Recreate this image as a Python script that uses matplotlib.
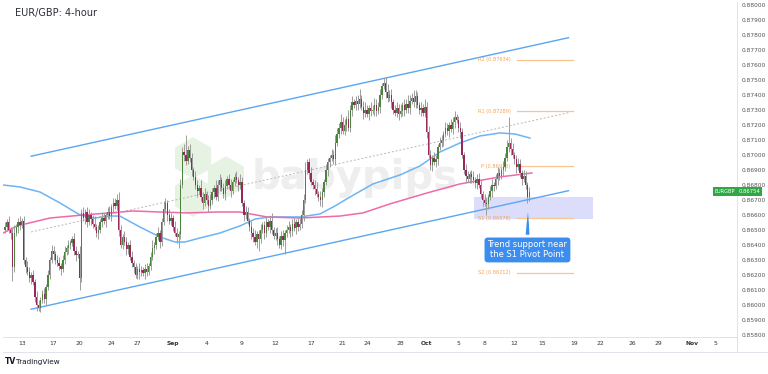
import numpy as np
import matplotlib.pyplot as plt
from matplotlib.patches import Rectangle
from matplotlib.lines import Line2D

plt.rcParams['font.family'] = ['DejaVu Sans']

title = "EUR/GBP: 4-hour"

# 4-hour closes in pips (price * 1e4), open = previous close
first_open = 8650
closes = [
    8652, 8655, 8650, 8648, 8625, 8648, 8652, 8655, 8653, 8656,
    8630, 8625, 8622, 8618, 8620, 8615, 8605, 8600, 8598, 8603,
    8607, 8604, 8612, 8620, 8630, 8636, 8634, 8630, 8628, 8626,
    8624, 8630, 8635, 8638, 8640, 8641, 8644, 8636, 8633, 8634,
    8618, 8661, 8658, 8662, 8655, 8660, 8657, 8654, 8652, 8648,
    8650, 8655, 8658, 8656, 8660, 8662, 8659, 8665, 8668, 8666,
    8670, 8650, 8640, 8645, 8642, 8637, 8640, 8632, 8628, 8625,
    8620, 8624, 8622, 8623, 8621, 8624, 8622, 8626, 8632, 8638,
    8640, 8645, 8648, 8642, 8655, 8664, 8668, 8660, 8656, 8658,
    8652, 8648, 8645, 8647, 8680, 8702, 8700, 8696, 8703, 8698,
    8690, 8685, 8680, 8676, 8678, 8672, 8668, 8674, 8670, 8666,
    8670, 8675, 8678, 8672, 8680, 8683, 8678, 8674, 8679, 8684,
    8680, 8676, 8682, 8685, 8683, 8680, 8682, 8668, 8660, 8662,
    8656, 8652, 8648, 8645, 8642, 8647, 8644, 8650, 8653, 8648,
    8655, 8652, 8656, 8650, 8646, 8648, 8644, 8640, 8646, 8643,
    8648, 8650, 8652, 8649, 8654, 8651, 8655, 8652, 8654, 8660,
    8670, 8690, 8695, 8688, 8682, 8680, 8677, 8674, 8672, 8670,
    8675, 8682, 8690, 8695, 8698, 8700, 8697, 8708, 8714, 8718,
    8722, 8716, 8720, 8724, 8718, 8730, 8735, 8733, 8736, 8734,
    8737, 8732, 8728, 8730, 8727, 8731, 8729, 8730, 8733, 8729,
    8732, 8740, 8746, 8748, 8742, 8738, 8740, 8735, 8730, 8728,
    8731, 8727, 8729, 8733, 8730, 8734, 8731, 8736, 8738, 8735,
    8739, 8733, 8730, 8731, 8728, 8732, 8715, 8700, 8693, 8698,
    8695, 8697, 8705, 8708, 8710, 8714, 8718, 8716, 8720, 8717,
    8722, 8725, 8723, 8718, 8715, 8700, 8690, 8686, 8684, 8687,
    8685, 8683, 8681, 8684, 8680, 8674, 8670, 8668, 8667, 8672,
    8676, 8680, 8679, 8684, 8688, 8686, 8690, 8692, 8698, 8705,
    8708, 8704, 8700, 8697, 8692, 8694, 8688, 8684, 8686, 8680,
    8672, 8675.4,
]
# wick length above / below the body, pips
up_wick = [
    3, 2, 4, 2, 3, 5, 2, 3, 4, 2,
    3, 2, 4, 3, 2, 3, 2, 4, 3, 2,
    3, 4, 2, 3, 2, 4, 3, 2, 3, 4,
    2, 3, 4, 2, 3, 2, 2, 4, 3, 2,
    5, 3, 4, 2, 3, 4, 2, 3, 5, 2,
    3, 2, 4, 3, 2, 3, 4, 2, 3, 3,
    4, 5, 3, 2, 4, 3, 2, 3, 4, 2,
    3, 2, 4, 3, 2, 3, 4, 2, 3, 5,
    2, 3, 4, 2, 3, 5, 3, 2, 4, 3,
    2, 4, 3, 2, 4, 3, 5, 13, 3, 4,
    3, 2, 4, 3, 2, 5, 3, 4, 2, 3,
    4, 3, 2, 5, 3, 4, 2, 3, 4, 2,
    3, 4, 2, 3, 4, 2, 5, 3, 2, 4,
    3, 2, 4, 3, 5, 2, 3, 4, 2, 3,
    4, 2, 3, 5, 2, 3, 4, 2, 3, 4,
    2, 3, 4, 2, 3, 4, 2, 3, 4, 3,
    4, 5, 2, 3, 4, 2, 3, 5, 2, 4,
    3, 2, 4, 3, 2, 4, 3, 5, 4, 3,
    5, 3, 4, 2, 6, 3, 4, 2, 3, 4,
    7, 3, 4, 5, 3, 2, 4, 3, 5, 4,
    3, 4, 2, 3, 4, 5, 3, 4, 2, 3,
    4, 3, 5, 2, 4, 3, 6, 4, 3, 5,
    4, 3, 2, 4, 3, 5, 3, 4, 3, 2,
    4, 3, 2, 4, 3, 2, 4, 3, 2, 4,
    3, 4, 2, 3, 4, 3, 2, 4, 3, 2,
    3, 4, 2, 3, 4, 3, 2, 4, 3, 2,
    3, 4, 2, 3, 4, 3, 2, 4, 3, 5,
    17, 3, 4, 2, 3, 4, 3, 2, 4, 3,
    2, 3,
]
dn_wick = [
    2, 3, 2, 4, 9, 3, 2, 4, 3, 2,
    3, 4, 2, 3, 4, 2, 3, 4, 2, 3,
    2, 3, 4, 2, 3, 2, 4, 3, 2, 3,
    4, 2, 3, 2, 4, 3, 2, 3, 4, 2,
    8, 3, 2, 4, 3, 2, 4, 3, 2, 3,
    4, 2, 3, 2, 4, 3, 2, 3, 4, 2,
    3, 4, 2, 3, 2, 4, 3, 2, 3, 4,
    2, 3, 5, 3, 2, 4, 3, 2, 3, 2,
    4, 3, 2, 4, 3, 2, 3, 4, 2, 3,
    3, 2, 4, 7, 3, 2, 4, 3, 2, 3,
    4, 2, 3, 4, 2, 3, 4, 2, 3, 4,
    2, 3, 4, 2, 3, 4, 2, 3, 4, 2,
    3, 4, 2, 3, 2, 4, 3, 2, 4, 3,
    2, 3, 4, 3, 2, 4, 8, 3, 2, 4,
    3, 2, 4, 3, 2, 3, 4, 2, 3, 4,
    9, 3, 2, 4, 3, 2, 4, 3, 2, 3,
    4, 2, 3, 4, 2, 3, 4, 2, 3, 4,
    5, 3, 2, 4, 3, 2, 3, 4, 2, 3,
    4, 2, 3, 4, 2, 3, 4, 2, 3, 4,
    3, 2, 4, 3, 2, 4, 3, 2, 4, 3,
    2, 4, 3, 2, 4, 3, 2, 4, 3, 2,
    3, 4, 2, 3, 4, 2, 3, 4, 2, 3,
    4, 2, 3, 4, 2, 3, 4, 2, 3, 4,
    2, 3, 4, 2, 3, 4, 2, 3, 4, 2,
    3, 4, 2, 3, 4, 2, 3, 4, 2, 3,
    4, 2, 3, 4, 2, 3, 4, 2, 7, 3,
    2, 4, 3, 2, 4, 3, 2, 4, 3, 2,
    3, 4, 2, 3, 4, 2, 3, 4, 2, 3,
    4, 3,
]

# moving averages (bar index, price in pips)
blue_ma_x = [-1, 8, 18.8, 29.5, 40.2, 48.2, 56.3, 61.6, 72.3, 83.1, 91.1, 96.5,
             104.5, 115.2, 125.9, 134, 142, 158.1, 168.8, 176.8, 184.9, 197.2,
             211.7, 222.4, 233.1, 243.8, 254.6, 265.3, 273.3, 281.3]
blue_ma_y = [8679.8, 8678.5, 8675.1, 8667.8, 8659.8, 8657.8, 8659.1, 8659.1, 8651.8,
             8645.1, 8641.8, 8641.8, 8644.5, 8647.8, 8652.5, 8657.1, 8658.5, 8658.5,
             8660.5, 8665.8, 8671.8, 8680.5, 8686.5, 8692.5, 8701.8, 8707.8, 8712.5,
             8714.5, 8713.8, 8711.1]
pink_ma_x = [-1, 6.4, 24.1, 41.8, 56.3, 68.6, 83.1, 97.5, 113.6, 125.9, 140.4,
             158.1, 179.5, 191.9, 206.3, 226.2, 243.8, 265.3, 282.4]
pink_ma_y = [8647.8, 8652.5, 8657.8, 8659.8, 8661.2, 8662.5, 8661.8, 8661.2, 8661.8,
             8661.8, 8658.5, 8657.8, 8659.1, 8661.2, 8667.2, 8674.5, 8680.5, 8685.2,
             8687.8]

# ascending channel + midline (bar index, pips)
channel_x = [14, 302]
upper_y = [8699, 8778]
lower_y = [8597, 8676]
mid_y = [8648.5, 8728]

pivot_names = ["R2", "R1", "P", "S1", "S2"]
pivot_values = [0.87634, 0.87289, 0.86923, 0.86578, 0.86212]
pivot_x = [274.5, 304.5]

zone_x = [251.3, 315.1]
zone_y = [0.86571, 0.86718]

last_price = 0.86754
note = "Trend support near\nthe S1 Pivot Point"

date_labels = ["13", "17", "20", "24", "27", "Sep", "4", "9", "12", "17", "21", "24",
               "28", "Oct", "5", "8", "12", "15", "19", "22", "26", "29", "Nov", "5"]
date_bars = [9, 26, 40, 57, 71, 90, 108, 127, 145, 164, 181, 194,
             212, 226, 243, 257, 273, 288, 305, 319, 336, 350, 368, 381]

price_ticks = np.arange(0.858, 0.8801, 0.001)

# ---------------------------------------------------------------
c = np.array(closes) / 1e4
o = np.r_[first_open / 1e4, c[:-1]]
hi = np.maximum(o, c) + np.array(up_wick) / 1e4
lo = np.minimum(o, c) - np.array(dn_wick) / 1e4
x = np.arange(len(c))
rising = c >= o

W, H = 768, 374
fig = plt.figure(figsize=(W / 100, H / 100), dpi=100)
ax = fig.add_axes([3 / W, 1 - 337 / H, 734 / W, 335 / H])
ax.set_xlim(-1.07, 392.3)
ax.set_ylim(0.857847, 0.880180)

# watermark
ax.scatter([100.8, 118.4, 100.8], [0.86978, 0.86851, 0.86725], marker='h', s=900,
           color='#e6f2e2', edgecolors='none', zorder=0)
ax.text(187.6, 0.86845, "babypips", fontsize=29, fontweight='bold', color='#eeeeee',
        ha='center', va='center', zorder=0)

# zone
ax.add_patch(Rectangle((zone_x[0], zone_y[0]), zone_x[1] - zone_x[0], zone_y[1] - zone_y[0],
                       facecolor=(0.45, 0.47, 0.95, 0.25), edgecolor='none', zorder=1))

# channel
ax.plot(channel_x, np.array(upper_y) / 1e4, color='#5aa6f2', lw=1.0, zorder=2)
ax.plot(channel_x, np.array(lower_y) / 1e4, color='#5aa6f2', lw=1.0, zorder=2)
ax.plot(channel_x, np.array(mid_y) / 1e4, color='#b8b8b8', lw=0.7, ls=(0, (2, 2)), zorder=2)

# moving averages
ax.plot(blue_ma_x, np.array(blue_ma_y) / 1e4, color='#6cb4f5', lw=1.1, zorder=2)
ax.plot(pink_ma_x, np.array(pink_ma_y) / 1e4, color='#f06aa8', lw=1.1, zorder=2)

# candles
ax.vlines(x, lo, hi, color='#9c9c9c', lw=0.7, zorder=3)
body = np.maximum(np.abs(c - o), 0.00003)
bottom = np.minimum(o, c)
ax.bar(x[rising], body[rising], bottom=bottom[rising], width=0.72, color='#4a853b', zorder=4)
ax.bar(x[~rising], body[~rising], bottom=bottom[~rising], width=0.72, color='#96285a', zorder=4)

# pivot levels
for name, val in zip(pivot_names, pivot_values):
    ax.plot(pivot_x, [val, val], color='#fbc590', lw=0.9, zorder=2)
    ax.text(pivot_x[0] - 3.5, val, f"{name} ({val:.5f})", fontsize=3.6, color='#f4a354',
            ha='right', va='center', zorder=2)

# callout
ax.annotate(note, xy=(280.3, 0.86636), xytext=(280, 0.86365), fontsize=6, color='white',
            ha='center', va='center', linespacing=1.15, zorder=6,
            bbox=dict(boxstyle='round,pad=0.35,rounding_size=0.4', fc='#3b8eef', ec='none'),
            arrowprops=dict(arrowstyle='wedge,tail_width=0.45,shrink_factor=0.6',
                            fc='#3b8eef', ec='none', relpos=(0.5, 1.0)))

# axes styling
for s in ['top', 'left']:
    ax.spines[s].set_visible(False)
ax.spines['right'].set_color('#e0e3eb')
ax.spines['bottom'].set_color('#e0e3eb')
ax.spines['right'].set_linewidth(0.7)
ax.spines['bottom'].set_linewidth(0.7)
ax.yaxis.tick_right()
ax.set_yticks(price_ticks)
ax.set_yticklabels([f"{v:.5f}" for v in price_ticks])
ax.tick_params(axis='y', length=0, pad=3, labelsize=4.2, labelcolor='#555555')
ax.set_xticks(date_bars)
ax.set_xticklabels(date_labels)
ax.tick_params(axis='x', length=0, pad=3, labelsize=4.3, labelcolor='#333333')
for lab in ax.get_xticklabels():
    if lab.get_text() in ("Sep", "Oct", "Nov"):
        lab.set_fontweight('bold')

# last price tags
ax.annotate("EURGBP", xy=(0.9835, last_price), xycoords=('axes fraction', 'data'),
            fontsize=3.6, color='white', ha='center', va='center',
            bbox=dict(boxstyle='square,pad=0.35', fc='#2da844', ec='none'), zorder=7)
ax.annotate(f"{last_price:.5f}", xy=(1.017, last_price), xycoords=('axes fraction', 'data'),
            fontsize=3.8, color='white', ha='center', va='center', annotation_clip=False,
            bbox=dict(boxstyle='square,pad=0.35', fc='#2da844', ec='none'), zorder=7)

ax.text(12 / 734, 1 - 11 / 335, title, transform=ax.transAxes, fontsize=7,
        color='#2a2e39', ha='left', va='center')

fig.add_artist(Line2D([3 / W, 1], [1 - 352 / H] * 2, transform=fig.transFigure,
                      color='#e0e3eb', lw=0.7))
fig.add_artist(Line2D([737 / W] * 2, [1 - 352 / H, 1 - 337 / H], transform=fig.transFigure,
                      color='#e0e3eb', lw=0.7))
fig.text(5 / W, 1 - 362 / H, "TV", fontsize=5.5, fontweight='heavy', color='#131722',
         va='center')
fig.text(16 / W, 1 - 362 / H, "TradingView", fontsize=5.2, color='#131722', va='center')

fig.savefig("out.png", dpi=100)
